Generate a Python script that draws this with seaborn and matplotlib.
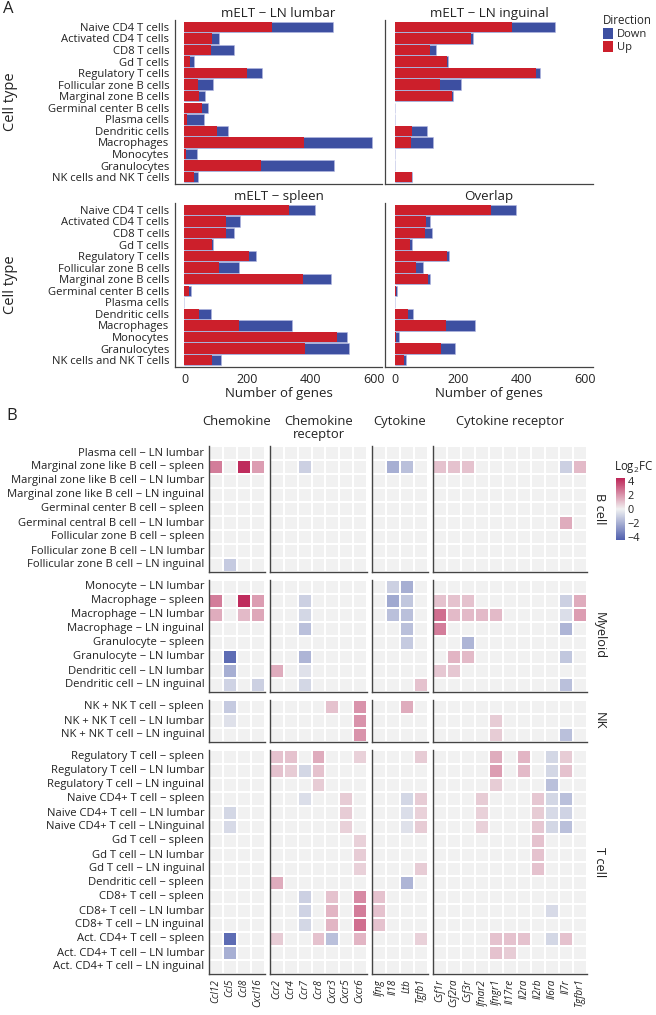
import numpy as np
import pandas as pd
import matplotlib
matplotlib.use("Agg")
import matplotlib.pyplot as plt
import seaborn as sns
from matplotlib.colors import LinearSegmentedColormap, Normalize
from matplotlib.patches import Patch
import matplotlib.cm as cm

sns.set_theme(style="white")
plt.rcParams["font.family"] = ["Open Sans", "DejaVu Sans"]
plt.rcParams["mathtext.fontset"] = "custom"
plt.rcParams["mathtext.rm"] = "Open Sans"
plt.rcParams["axes.unicode_minus"] = True

# ---------------- Panel A data ----------------
cell_types = ["Naive CD4 T cells", "Activated CD4 T cells", "CD8 T cells", "Gd T cells",
              "Regulatory T cells", "Follicular zone B cells", "Marginal zone B cells",
              "Germinal center B cells", "Plasma cells", "Dendritic cells", "Macrophages",
              "Monocytes", "Granulocytes", "NK cells and NK T cells"]
panel_titles = ["mELT − LN lumbar", "mELT − LN inguinal", "mELT − spleen", "Overlap"]
lumbar_up = [278, 86, 84, 17, 198, 43, 47, 56, 7, 103, 378, 5, 243, 29]
lumbar_down = [193, 23, 74, 14, 48, 49, 19, 17, 55, 36, 217, 34, 232, 15]
inguinal_up = [370, 241, 113, 165, 447, 145, 181, 0, 0, 56, 51, 0, 0, 56]
inguinal_down = [135, 8, 18, 3, 12, 64, 5, 0, 0, 47, 71, 0, 0, 0]
spleen_up = [332, 131, 133, 86, 205, 111, 376, 13, 0, 46, 172, 483, 382, 87]
spleen_down = [81, 44, 25, 6, 22, 61, 89, 8, 0, 38, 168, 32, 138, 29]
overlap_up = [304, 99, 97, 50, 165, 69, 107, 6, 0, 44, 163, 6, 148, 29]
overlap_down = [79, 12, 22, 4, 6, 21, 4, 3, 0, 15, 91, 9, 42, 7]
x_ticks = [0, 200, 400, 600]

# ---------------- Panel B data ----------------
chemokine = ["Ccl12", "Ccl5", "Ccl8", "Cxcl16"]
chemokine_receptor = ["Ccr2", "Ccr4", "Ccr7", "Ccr8", "Cxcr3", "Cxcr5", "Cxcr6"]
cytokine = ["Ifng", "Il18", "Ltb", "Tgfb1"]
cytokine_receptor = ["Csf1r", "Csf2ra", "Csf3r", "Ifnar2", "Ifngr1", "Il17re", "Il2ra",
                     "Il2rb", "Il6ra", "Il7r", "Tgfbr1"]
col_group_names = ["Chemokine", "Chemokine\nreceptor", "Cytokine", "Cytokine receptor"]

b_cell_rows = ["Plasma cell − LN lumbar", "Marginal zone like B cell − spleen",
               "Marginal zone like B cell − LN lumbar", "Marginal zone like B cell − LN inguinal",
               "Germinal center B cell − spleen", "Germinal central B cell − LN lumbar",
               "Follicular zone B cell − spleen", "Follicular zone B cell − LN lumbar",
               "Follicular zone B cell − LN inguinal"]
myeloid_rows = ["Monocyte − LN lumbar", "Macrophage − spleen", "Macrophage − LN lumbar",
                "Macrophage − LN inguinal", "Granulocyte − spleen", "Granulocyte − LN lumbar",
                "Dendritic cell − LN lumbar", "Dendritic cell − LN inguinal"]
nk_rows = ["NK + NK T cell − spleen", "NK + NK T cell − LN lumbar", "NK + NK T cell − LN inguinal"]
t_cell_rows = ["Regulatory T cell − spleen", "Regulatory T cell − LN lumbar",
               "Regulatory T cell − LN inguinal", "Naive CD4+ T cell − spleen",
               "Naive CD4+ T cell − LN lumbar", "Naive CD4+ T cell − LNinguinal",
               "Gd T cell − spleen", "Gd T cell − LN lumbar", "Gd T cell − LN inguinal",
               "Dendritic cell − spleen", "CD8+ T cell − spleen", "CD8+ T cell − LN lumbar",
               "CD8+ T cell − LN inguinal", "Act. CD4+ T cell − spleen",
               "Act. CD4+ T cell − LN lumbar", "Act. CD4+ T cell − LN inguinal"]
row_group_names = ["B cell", "Myeloid", "NK", "T cell"]

# columns: chemokine(4) | chemokine receptor(7) | cytokine(4) | cytokine receptor(11)
b_cell_values = [
    [0, 0, 0, 0,  0, 0, 0, 0, 0, 0, 0,  0, 0, 0, 0,  0, 0, 0, 0, 0, 0, 0, 0, 0, 0, 0],
    [2.5, 0, 4.2, 1.8,  0, 0, -1, 0, 0, 0, 0,  0, -2, -1.5, 0,  1, 1, 1, 0, 0, 0, 0, 0, 0, -1, 1.2],
    [0, 0, 0, 0,  0, 0, 0, 0, 0, 0, 0,  0, 0, 0, 0,  0, 0, 0, 0, 0, 0, 0, 0, 0, 0, 0],
    [0, 0, 0, 0,  0, 0, 0, 0, 0, 0, 0,  0, 0, 0, 0,  0, 0, 0, 0, 0, 0, 0, 0, 0, 0, 0],
    [0, 0, 0, 0,  0, 0, 0, 0, 0, 0, 0,  0, 0, 0, 0,  0, 0, 0, 0, 0, 0, 0, 0, 0, 0, 0],
    [0, 0, 0, 0,  0, 0, 0, 0, 0, 0, 0,  0, 0, 0, 0,  0, 0, 0, 0, 0, 0, 0, 0, 0, 1.5, 0],
    [0, 0, 0, 0,  0, 0, 0, 0, 0, 0, 0,  0, 0, 0, 0,  0, 0, 0, 0, 0, 0, 0, 0, 0, 0, 0],
    [0, 0, 0, 0,  0, 0, 0, 0, 0, 0, 0,  0, 0, 0, 0,  0, 0, 0, 0, 0, 0, 0, 0, 0, 0, 0],
    [0, -1.2, 0, 0,  0, 0, 0, 0, 0, 0, 0,  0, 0, 0, 0,  0, 0, 0, 0, 0, 0, 0, 0, 0, 0, 0],
]
myeloid_values = [
    [0, 0, 0, 0,  0, 0, 0, 0, 0, 0, 0,  0, -1, -2, 0,  0, 0, 0, 0, 0, 0, 0, 0, 0, 0, 0],
    [2.5, 0, 4.2, 1.8,  0, 0, -1, 0, 0, 0, 0,  0, -2.2, -1.3, 0,  1, 1, 1, 0, 0, 0, 0, 0, 0, -1, 1.5],
    [1.5, 0, 1.2, 1.6,  0, 0, -0.8, 0, 0, 0, 0,  0, -1.5, -1.5, 0,  2.8, 1.2, 1.2, 1.2, 1.2, 0, 0, 0, 0, -0.6, 1.8],
    [0, 0, 0, 0,  0, 0, -1.5, 0, 0, 0, 0,  0, 0, -1.5, 0,  2.5, 0, 0, 0, 0, 0, 0, 0, 0, -1.8, 0],
    [0, 0, 0, 0,  0, 0, 0, 0, 0, 0, 0,  0, 0, -1.2, 0,  0, 0, -1.8, 0, 0, 0, 0, 0, 0, 0, 0],
    [0, -4, 0, 0,  0, 0, -1.8, 0, 0, 0, 0,  0, 0, 0, 0,  0, 1.3, 1.2, 0, 0, 0, 0, 0, 0, -1.3, 0],
    [0, -2, 0, 0,  1.5, 0, -0.5, 0, 0, 0, 0,  0, 0, 0, 0,  0.9, 0.9, 0, 0, 0, 0, 0, 0, 0, 0, 0],
    [0, -0.9, 0, -1,  0, 0, -0.8, 0, 0, 0, 0,  0, 0, 0, 1,  0, 0, 0, 0, 0, 0, 0, 0, 0, -1.5, 0],
]
nk_values = [
    [0, -1.2, 0, 0,  0, 0, 0, 0, 1, 0, 2,  0, 0, 1.5, 0,  0, 0, 0, 0, 0, 0, 0, 0, 0, 0, 0],
    [0, -0.5, 0, 0,  0, 0, 0, 0, 0, 0, 2,  0, 0, 0, 0,  0, 0, 0, 0, 0.8, 0, 0, 0, 0, 0, 0],
    [0, 0, 0, 0,  0, 0, 0, 0, 0, 0, 2,  0, 0, 0, 0,  0, 0, 0, 0, 0.8, 0, 0, 0, 0, -1.5, 0],
]
t_cell_values = [
    [0, 0, 0, 0,  1, 1, 0, 1.5, 0, 0, 0.7,  0, 0, 0, 0.8,  0, 0, 0, 0, 1.5, 0, 1.3, 0, -0.8, 0.8, 0],
    [0, 0, 0, 0,  1, 0.8, -0.8, 1, 0, 0, 0,  0, 0, 0, 0,  0, 0, 0, 0, 1.8, 0, 1.2, 0, -0.8, 1, 0],
    [0, 0, 0, 0,  0, 0, 0, 0.8, 0, 0, 0,  0, 0, 0, 0,  0, 0, 0, 0, 0.8, 0, 0, 0, -1.5, 0, 0],
    [0, 0, 0, 0,  0, 0, -0.6, 0, 0, 0.8, 0,  0, 0, -0.8, 0.8,  0, 0, 0, 0.8, 0, 0, 0, 0.9, -0.8, -1.5, 0],
    [0, -0.8, 0, 0,  0, 0, 0, 0, 0, 0.8, 0,  0, 0, -0.6, 0.7,  0, 0, 0, 0.7, 0, 0, 0, 0.8, -0.7, -0.9, 0],
    [0, -0.7, 0, 0,  0, 0, 0, 0, 0, 0.7, 0,  0, 0, -0.5, 0.8,  0, 0, 0, 0.7, 0, 0, 0, 0.9, -0.8, -1.5, 0],
    [0, 0, 0, 0,  0, 0, 0, 0, 0, 0, 0.7,  0, 0, 0, 0,  0, 0, 0, 0, 0, 0, 0, 1, 0, 0, 0],
    [0, 0, 0, 0,  0, 0, 0, 0, 0, 0, 0.8,  0, 0, 0, 0,  0, 0, 0, 0, 0, 0, 0, 1, 0, 0, 0],
    [0, 0, 0, 0,  0, 0, 0, 0, 0, 0, 0.7,  0, 0, 0, 0.8,  0, 0, 0, 0, 0, 0, 0, 1, 0, 0, 0],
    [0, 0, 0, 0,  1.5, 0, 0, 0, 0, 0, 0,  0, 0, -1.8, 0,  0, 0, 0, 0, 0, 0, 0, 0, 0, 0, 0],
    [0, 0, 0, 0,  0, 0, -1, 0, 1, 0, 2.2,  1, 0, 0, 0,  0, 0, 0, 0, 0, 0, 0, 0, 0, 0, 0],
    [0, 0, 0, 0,  0, 0, -0.9, 0, 1.3, 0, 2.5,  1, 0, 0, 0,  0, 0, 0, 0, 0, 0, 0, 0, -0.7, 0, 0],
    [0, 0, 0, 0,  0, 0, -0.8, 0, 1.3, 0, 2.8,  1, 0, 0, 0,  0, 0, 0, 0, 0, 0, 0, 0, 0, 0, 0],
    [0, -4, 0, 0,  0.8, 0, 0, 1, -1.5, 0, 1.3,  0, 0, 0, 0.7,  0, 0, 0, 0, 1, 1, 1, 0, -0.8, 1, 0],
    [0, -2, 0, 0,  0, 0, 0, 0, 0, 0, 0,  0, 0, 0, 0,  0, 0, 0, 0, 1, 0.8, 0, 0, 0, 0, 0],
    [0, 0, 0, 0,  0, 0, 0, 0, 0, 0, 0,  0, 0, 0, 0,  0, 0, 0, 0, 0, 0, 0, 0, 0, 0, 0],
]
cbar_ticks = [4, 2, 0, -2, -4]

# ---------------- Figure ----------------
W, H = 656, 1015
fig = plt.figure(figsize=(W / 100, H / 100), dpi=100)
fig.patch.set_facecolor("white")


def px(x0, y0, x1, y1):
    return [x0 / W, 1 - y1 / H, (x1 - x0) / W, (y1 - y0) / H]


UP = "#cc1f2b"
DOWN = "#3d4fa1"
AXC = "#444444"
TXT = "#222222"

bar_boxes = [(175, 20, 382, 184), (385, 20, 593, 184), (175, 203, 382, 367), (385, 203, 593, 367)]
ups = [lumbar_up, inguinal_up, spleen_up, overlap_up]
downs = [lumbar_down, inguinal_down, spleen_down, overlap_down]

for i, (box, up, down, title) in enumerate(zip(bar_boxes, ups, downs, panel_titles)):
    ax = fig.add_axes(px(*box))
    df = pd.DataFrame({"cell": cell_types, "up": up,
                       "total": [u + d for u, d in zip(up, down)]})
    sns.barplot(data=df, x="total", y="cell", order=cell_types, color=DOWN, saturation=1,
                width=0.9, errorbar=None, ax=ax, edgecolor="#b4b9e2", linewidth=0.4)
    sns.barplot(data=df, x="up", y="cell", order=cell_types, color=UP, saturation=1,
                width=0.9, errorbar=None, ax=ax, linewidth=0)
    ax.set_xlim(-30, 626)
    ax.set_ylim(13.6, -0.6)
    ax.set_xlabel("")
    ax.set_ylabel("")
    for s in ["top", "right"]:
        ax.spines[s].set_visible(False)
    for s in ["left", "bottom"]:
        ax.spines[s].set_visible(True)
        ax.spines[s].set_color(AXC)
        ax.spines[s].set_linewidth(0.9)
    ax.set_xticks(x_ticks)
    ax.tick_params(axis="both", length=2.5, width=0.7, color=AXC, pad=1.5,
                   labelsize=8.1, labelcolor=TXT)
    if i % 2 == 1:
        ax.set_yticklabels([])
        ax.tick_params(axis="y", length=0)
    if i < 2:
        ax.set_xticklabels([])
        ax.tick_params(axis="x", length=0)
    else:
        ax.set_xticklabels([str(t) for t in x_ticks], fontsize=9)
        ax.set_xlabel("Number of genes", fontsize=9.5, color=TXT, labelpad=1)
    ax.set_title(title, fontsize=9.6, color=TXT, pad=2)
    ax.grid(False)

fig.text(10 / W, 1 - 102 / H, "Cell type", rotation=90, ha="center", va="center", fontsize=10.5, color=TXT)
fig.text(10 / W, 1 - 285 / H, "Cell type", rotation=90, ha="center", va="center", fontsize=10.5, color=TXT)
fig.text(3 / W, 1 - 9 / H, "A", ha="left", va="center", fontsize=12, color=TXT)

leg = fig.legend(handles=[Patch(facecolor=DOWN, edgecolor="none"), Patch(facecolor=UP, edgecolor="none")],
                 labels=["Down", "Up"], title="Direction", loc="upper left",
                 bbox_to_anchor=(603 / W, 1 - 14 / H), frameon=False, fontsize=8,
                 title_fontsize=8.3, handlelength=0.9, handleheight=1.1, handletextpad=0.35,
                 borderaxespad=0, borderpad=0, labelspacing=0.1, alignment="left")

# ---------------- Panel B heatmap ----------------
cmap = LinearSegmentedColormap.from_list("lfc", ["#4f5fae", "#f1f2f2", "#bd2457"])
VMAX = 4.4
col_groups = [chemokine, chemokine_receptor, cytokine, cytokine_receptor]
col_bounds = np.cumsum([0] + [len(c) for c in col_groups])
row_groups = [(b_cell_rows, b_cell_values), (myeloid_rows, myeloid_values),
              (nk_rows, nk_values), (t_cell_rows, t_cell_values)]
col_x = [(209, 265), (270, 367), (372, 428), (433, 587)]
row_y = [(446, 572), (580, 692), (700, 742), (750, 974)]

for gi, (rows, vals) in enumerate(row_groups):
    arr = np.array(vals, dtype=float)
    for ci, cols in enumerate(col_groups):
        sub = arr[:, col_bounds[ci]:col_bounds[ci + 1]]
        df = pd.DataFrame(sub, index=rows, columns=cols)
        ax = fig.add_axes(px(col_x[ci][0], row_y[gi][0], col_x[ci][1], row_y[gi][1]))
        sns.heatmap(df, ax=ax, cmap=cmap, vmin=-VMAX, vmax=VMAX, cbar=False,
                    linewidths=1.3, linecolor="white",
                    xticklabels=(gi == 3), yticklabels=(ci == 0))
        for s in ["top", "right"]:
            ax.spines[s].set_visible(False)
        for s in ["left", "bottom"]:
            ax.spines[s].set_visible(True)
            ax.spines[s].set_color(AXC)
            ax.spines[s].set_linewidth(1.0)
        ax.tick_params(axis="both", length=2, width=0.6, color=AXC, pad=1.5)
        if ci == 0:
            ax.set_yticklabels(rows, rotation=0, fontsize=8.1, color=TXT)
        else:
            ax.tick_params(axis="y", length=0)
        if gi == 3:
            ax.set_xticklabels(cols, rotation=90, fontsize=7.2, color=TXT, fontstyle="italic")
        else:
            ax.tick_params(axis="x", length=0)
        ax.set_xlabel("")
        ax.set_ylabel("")

# column strip labels
for ci, name in enumerate(col_group_names):
    cx = (col_x[ci][0] + col_x[ci][1]) / 2
    fig.text(cx / W, 1 - 415 / H, name, ha="center", va="top", fontsize=9.4, color=TXT,
             linespacing=1.0)
# row strip labels
for gi, name in enumerate(row_group_names):
    cy = (row_y[gi][0] + row_y[gi][1]) / 2
    fig.text(599 / W, 1 - cy / H, name, rotation=270, ha="center", va="center",
             fontsize=9.2, color=TXT)

fig.text(6 / W, 1 - 416 / H, "B", ha="left", va="center", fontsize=12, color=TXT)

# colorbar
cax = fig.add_axes(px(616, 478, 625, 540))
sm = cm.ScalarMappable(norm=Normalize(-VMAX, VMAX), cmap=cmap)
cb = fig.colorbar(sm, cax=cax, ticks=cbar_ticks)
cb.outline.set_visible(False)
cax.tick_params(labelsize=7.8, length=0, pad=2, labelcolor=TXT)
cax.set_yticklabels(["4", "2", "0", "−2", "−4"])
fig.text(614 / W, 1 - 467 / H, "Log$_2$FC", ha="left", va="center", fontsize=8.3, color=TXT)

fig.savefig("out.png", dpi=100, facecolor="white")
